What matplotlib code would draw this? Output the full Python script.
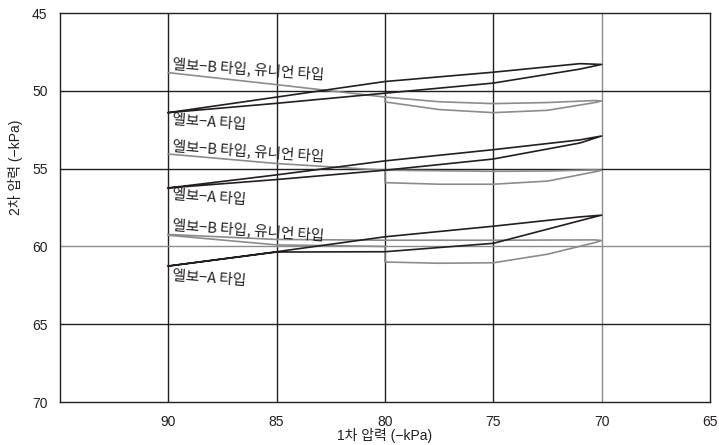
import matplotlib
matplotlib.use("Agg")
import matplotlib.pyplot as plt

FONT = ["Liberation Sans", "Noto Sans CJK KR", "DejaVu Sans"]
KR_FONT = ["Noto Sans CJK KR", "DejaVu Sans"]
plt.rcParams["font.family"] = FONT

DARK = "#231f20"
GREY = "#8c8c8c"

# primary pressure (-kPa) ticks / secondary pressure (-kPa) ticks
X_TICKS = [90, 85, 80, 75, 70, 65]
Y_TICKS = [45, 50, 55, 60, 65, 70]

LABEL_A = "엘보−A 타입"
LABEL_B = "엘보−B 타입, 유니언 타입"

# group 1 (top)
A1_X = [90, 85, 80, 75, 71, 70, 71, 75, 80, 85, 90]
A1_Y = [51.4, 50.4, 49.4, 48.8, 48.25, 48.3, 48.6, 49.5, 50.15, 50.8, 51.4]
B1_X = [90, 85, 80, 77.5, 75, 72.5, 70.3, 70, 70.3, 72.5, 75, 77.5, 80, 80]
B1_Y = [48.83, 49.6, 50.4, 50.7, 50.82, 50.75, 50.62, 50.65, 50.75, 51.25, 51.4, 51.2, 50.71, 50.4]

# group 2 (middle)
A2_X = [90, 85, 80, 75, 71, 70, 71, 75, 80, 85, 90]
A2_Y = [56.24, 55.4, 54.5, 53.78, 53.15, 52.9, 53.35, 54.38, 55.1, 55.7, 56.24]
B2_X = [90, 85, 80, 75, 72.5, 70.3, 70, 70.3, 72.5, 75, 77.5, 80, 80]
B2_Y = [54.06, 54.67, 55.1, 55.17, 55.15, 55.08, 55.1, 55.2, 55.8, 56.0, 56.0, 55.9, 55.15]

# group 3 (bottom)
A3_X = [90, 85, 80, 75, 71, 70, 70.6, 75, 80, 85, 90]
A3_Y = [61.26, 60.34, 59.38, 58.7, 58.1, 57.99, 58.2, 59.8, 60.34, 60.36, 61.26]
B3_X = [90, 85, 80, 75, 70.3, 70, 70.3, 72.5, 75, 77.5, 80, 80, 85, 90]
B3_Y = [59.23, 59.55, 59.6, 59.6, 59.58, 59.62, 59.75, 60.5, 61.05, 61.08, 61.0, 60.0, 59.9, 59.28]


fig = plt.figure(figsize=(7.19, 4.45), dpi=100)
ax = fig.add_axes([0.0834, 0.0966, 0.904, 0.874])
ax.set_xlim(95, 65)
ax.set_ylim(70, 45)
ax.set_xticks(X_TICKS)
ax.set_yticks(Y_TICKS)
ax.tick_params(length=0, labelsize=10, colors=DARK)
ax.tick_params(axis="x", pad=9)
ax.tick_params(axis="y", pad=9)
for sp in ax.spines.values():
    sp.set_color(DARK)
    sp.set_linewidth(1.0)

# grid (60 and 70 lines are printed grey in the original)
for x in X_TICKS[:-1]:
    ax.axvline(x, color=GREY if x == 70 else DARK, lw=1.0, zorder=1)
for y in Y_TICKS[1:-1]:
    ax.axhline(y, color=GREY if y == 60 else DARK, lw=1.0, zorder=1)

for bx, by in [(B1_X, B1_Y), (B2_X, B2_Y), (B3_X, B3_Y)]:
    ax.plot(bx, by, color=GREY, lw=1.2, zorder=2)
for axx, ayy in [(A1_X, A1_Y), (A2_X, A2_Y), (A3_X, A3_Y)]:
    ax.plot(axx, ayy, color=DARK, lw=1.2, zorder=3)

text_kw = dict(fontsize=10.5, color=DARK, rotation=-4, rotation_mode="anchor",
               ha="left", va="center", family=KR_FONT)
ax.text(89.8, 48.3, LABEL_B, **text_kw)
ax.text(89.8, 51.85, LABEL_A, **text_kw)
ax.text(89.8, 53.55, LABEL_B, **text_kw)
ax.text(89.8, 56.7, LABEL_A, **text_kw)
ax.text(89.8, 58.6, LABEL_B, **text_kw)
ax.text(89.8, 61.9, LABEL_A, **text_kw)

ax.set_xlabel("1차 압력 (−kPa)", fontsize=10, color=DARK)
ax.xaxis.set_label_coords(0.5, -0.066)
ax.set_ylabel("2차 압력 (−kPa)", fontsize=10, color=DARK, va="center")
ax.yaxis.set_label_coords(-0.069, 0.604)

fig.savefig("out.png", dpi=100)
